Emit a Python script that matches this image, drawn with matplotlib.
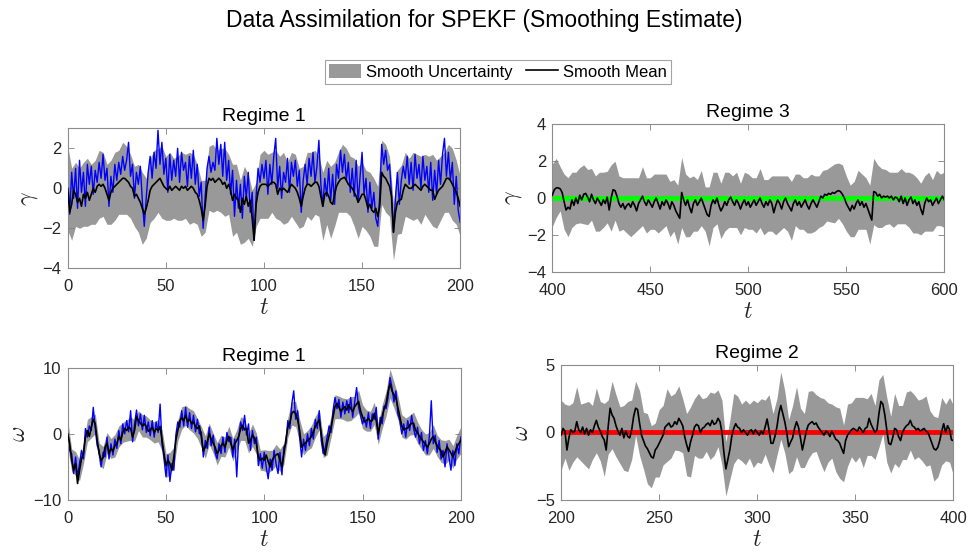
import numpy as np
import matplotlib
matplotlib.use('Agg')
import matplotlib.pyplot as plt
from matplotlib.patches import Patch
from matplotlib.lines import Line2D

plt.rcParams['font.family'] = ['Liberation Sans', 'DejaVu Sans']
plt.rcParams['mathtext.fontset'] = 'cm'

# ---- regime 1, gamma (t = 0..200) ----
g1_t = np.arange(0, 201)
g1_true = [0.6, -1.3, 0.8, -0.5, 1.0, -1.0, 1.4, -0.2, 0.8, -0.9,
           1.2, 0.2, 1.1, -0.3, 0.9, 0.3, 1.3, 0.5, 1.7, 0.4,
           1.0, -0.9, 0.6, -0.2, 1.2, 0.4, 1.3, 0.7, 1.6, 0.9,
           1.4, 2.3, 0.6, 1.2, -0.5, 0.8, 0.2, 1.1, -0.6, -1.9,
           -0.5, 0.8, 1.6, 0.5, 1.8, 1.0, 2.9, 1.2, 2.3, 0.7,
           1.5, -0.2, 1.7, 0.4, 1.4, 0.6, 2.0, 0.3, 1.8, 0.9,
           1.3, 0.1, 1.6, 0.5, 1.9, 0.2, 1.2, -0.4, 0.3, -2.0,
           -0.5, 1.0, 1.6, 0.8, 1.3, 0.9, 2.5, 1.2, 2.2, 0.6,
           2.3, 0.4, 1.4, -0.3, 0.9, -1.4, 0.4, -1.0, 0.2, -1.5,
           0.6, -0.5, 0.8, -1.2, -0.2, -2.6, -0.4, 1.0, 0.3, 1.2,
           0.5, 1.4, -0.3, 1.2, 0.2, 1.6, 2.5, 0.0, 1.1, -0.5,
           0.8, 0.3, 1.5, -0.2, 1.3, 0.6, 1.4, 0.1, 0.9, -1.2,
           0.4, 1.2, 0.2, 1.5, 0.6, 1.8, 0.3, 1.1, 2.4, 0.2,
           -0.9, 0.5, -0.4, 1.0, -0.6, 0.7, -0.8, 1.2, 0.5, 1.9,
           0.8, 1.7, 0.4, 1.3, -0.2, 1.0, -0.4, 1.4, -0.7, 0.6,
           1.8, -0.3, 0.5, -1.2, 0.3, -1.0, -0.2, -1.5, -1.9, -0.4,
           2.2, 1.2, 1.9, 0.9, 1.2, -0.3, -2.2, -0.5, 0.8, -0.8,
           0.4, 1.1, 0.5, 1.6, 0.2, 1.3, -0.1, 1.7, 0.5, 1.2,
           0.0, 1.6, 0.4, 1.1, -0.2, 1.3, -0.6, 0.9, -0.3, 1.4,
           0.2, 1.7, 2.5, 0.6, 1.8, 0.4, 1.3, -0.8, 0.6, -1.1,
           -1.7]
g1_mean = [0.0, -1.2, -0.8, -0.1, -0.3, -0.7, -0.5, -0.9, -0.3, -0.5,
           -0.2, -0.6, -0.3, 0.0, -0.2, 0.1, 0.2, 0.1, 0.2, 0.0,
           -0.3, -0.6, -0.2, 0.0, 0.1, 0.2, 0.3, 0.4, 0.5, 0.5,
           0.4, 0.3, 0.1, 0.0, -0.4, -0.3, -0.5, -0.7, -1.0, -1.3,
           -1.0, -0.6, -0.1, 0.1, 0.2, 0.3, 0.4, 0.5, 0.3, 0.1,
           0.0, -0.1, 0.1, -0.1, 0.0, 0.1, 0.0, -0.1, 0.1, 0.0,
           0.1, -0.1, 0.0, 0.1, 0.0, -0.2, -0.3, -0.6, -1.0, -1.6,
           -0.9, 0.1, 0.5, 0.4, 0.5, 0.3, 0.4, 0.5, 0.4, 0.2,
           0.3, 0.0, 0.2, -0.1, -0.6, -0.3, -0.5, -0.6, -1.2, -0.5,
           -0.8, -0.4, -0.9, -0.6, -1.5, -2.6, -0.8, -0.2, 0.1, 0.2,
           0.2, 0.2, 0.1, 0.2, 0.3, 0.3, 0.2, -0.3, 0.0, -0.1,
           0.0, -0.1, -0.2, 0.0, 0.2, 0.1, 0.0, -0.2, -0.5, -0.9,
           -0.4, 0.0, 0.2, 0.2, 0.1, 0.2, 0.3, 0.3, 0.1, -0.4,
           -0.9, -0.3, -0.2, -0.4, -0.7, -0.8, -0.3, 0.1, 0.3, 0.45,
           0.5, 0.55, 0.4, 0.2, 0.1, 0.0, -0.2, -0.4, -0.7, -0.5,
           -0.3, -0.3, -0.6, -1.0, -0.8, -1.1, -1.2, -1.0, -1.4, -0.9,
           0.8, 0.6, 0.5, 0.3, 0.1, -0.4, -2.2, -1.2, -0.7, -0.6,
           -0.55, -0.1, 0.2, 0.1, 0.0, 0.0, 0.1, 0.2, 0.1, 0.0,
           -0.1, 0.1, 0.2, 0.1, 0.0, -0.1, -0.1, -0.55, -0.3, -0.1,
           0.0, 0.1, 0.3, 0.5, 0.5, 0.4, 0.2, 0.0, -0.2, -0.5,
           -0.9]
# half width of the grey band, every 2 time units
g1_spread = [2.1, 1.8, 1.6, 1.5, 1.6, 1.7, 1.5, 1.6, 1.7, 1.6,
             1.5, 1.6, 1.7, 1.6, 1.8, 1.7, 1.6, 1.5, 1.7, 1.8,
             1.5, 1.6, 1.7, 1.6, 1.8, 1.6, 1.7, 1.5, 1.6, 1.7,
             1.6, 1.8, 1.7, 1.5, 1.4, 1.3, 1.6, 1.7, 1.5, 1.6,
             1.7, 1.5, 1.8, 1.7, 1.6, 1.9, 1.6, 1.4, 1.1, 1.6,
             1.7, 1.6, 1.5, 1.7, 1.6, 1.8, 1.5, 1.6, 1.7, 1.5,
             1.5, 1.6, 1.7, 1.6, 1.5, 1.7, 1.6, 1.8, 1.6, 1.5,
             1.7, 1.6, 1.5, 1.7, 1.8, 1.6, 1.5, 1.6, 1.7, 1.5,
             1.6, 1.7, 1.5, 1.4, 1.6, 1.7, 1.6, 1.5, 1.7, 1.6,
             1.7, 1.5, 1.6, 1.8, 1.7, 1.6, 1.5, 1.7, 1.8, 1.6,
             1.5]

# ---- regime 1, omega (t = 0..200) ----
w1_t = np.arange(0, 201)
w1_true = [0.5, -2.5, -3.0, -6.0, -3.5, -6.5, -4.5, -2.5, -3.8, 0.8,
           -0.5, 1.2, 0.5, 4.0, 0.8, -1.8, -2.5, -5.0, -2.8, -3.5,
           -0.5, -3.8, -1.5, -3.2, -0.8, -2.2, 0.5, -1.5, 1.5, 0.0,
           2.0, 0.3, 3.5, -1.2, 1.5, 3.6, 1.2, 3.0, 0.6, 2.8,
           0.2, 1.8, -0.3, 2.0, -0.5, 1.8, 0.2, 4.5, -1.5, -3.8,
           -6.5, -3.2, -7.2, -4.5, -5.5, -0.2, 1.8, 1.0, 3.5, 1.2,
           4.0, 1.0, 3.2, 0.8, 2.8, 0.3, 2.2, 0.0, 0.3, -3.5,
           -1.0, -2.2, 1.0, -1.8, -0.2, -2.8, -3.8, -1.5, -3.0, -0.5,
           -2.8, 0.2, -1.2, -0.5, -3.5, -0.8, -6.5, -0.5, 1.8, 0.5,
           2.8, -0.2, 1.5, -2.5, 0.5, -1.5, -0.5, -4.8, -3.0, -5.2,
           -2.8, -5.0, -6.8, -3.8, -5.5, -2.5, -4.5, -6.0, -2.8, -6.2,
           -2.0, -1.5, 2.0, 0.8, 4.5, 6.5, 2.2, 3.5, -0.5, -3.5,
           -0.8, -2.5, 0.0, -1.8, 0.8, -0.8, 2.2, 0.8, 3.5, -1.0,
           -3.0, -2.2, -0.5, 1.2, 0.2, 3.5, 5.5, 3.8, 5.2, 2.5,
           4.8, 3.0, 5.0, 3.2, 5.5, 2.5, 4.8, 7.0, 4.0, 2.8,
           1.5, 2.5, 1.0, 3.2, 0.8, 3.0, 2.2, 4.0, -0.8, 2.5,
           1.5, 4.2, 3.8, 5.5, 8.5, 7.0, 4.8, 6.5, 3.0, 2.0,
           0.0, 1.5, -0.5, 2.0, 0.5, 2.8, 0.8, -0.5, 1.0, -1.5,
           0.2, -2.5, -1.0, -3.0, -0.5, 5.0, -1.5, -0.2, -2.8, -1.0,
           -3.8, -2.5, -5.0, -1.5, -3.5, -5.5, -2.5, -4.8, -1.5, -3.0,
           -0.5]
w1_mean = [0.0, -1.5, -4.0, -5.5, -4.5, -7.5, -5.5, -3.8, -3.0, -0.5,
           0.5, -0.4, 1.0, 2.2, 1.5, -1.0, -3.0, -4.0, -3.6, -2.0,
           -1.4, -3.0, -2.2, -2.6, -1.8, -1.5, -0.4, -1.0, 0.2, 0.8,
           0.5, 1.0, 0.8, -0.5, 0.5, 2.6, 2.0, 1.6, 1.2, 1.5,
           1.1, 0.4, 0.6, 1.0, 0.2, 0.8, 0.5, 1.1, -1.0, -3.0,
           -4.8, -4.0, -4.5, -5.5, -3.5, -1.0, 0.5, 2.0, 2.4, 2.0,
           2.8, 1.8, 2.2, 1.6, 1.8, 1.1, 0.8, 1.2, -0.5, -2.6,
           -2.0, -1.2, 0.0, -0.8, -1.4, -2.0, -3.0, -2.5, -1.8, -1.4,
           -2.0, -1.0, -0.4, -1.5, -2.4, -1.5, -1.0, -0.4, 0.8, 1.3,
           0.6, 0.8, -1.4, -1.0, -0.2, -0.6, -1.5, -3.5, -4.0, -3.7,
           -4.0, -3.2, -4.2, -5.0, -4.0, -3.5, -3.2, -3.0, -4.0, -5.0,
           -3.0, -1.0, 1.0, 1.6, 3.1, 3.4, 3.0, 2.1, 0.5, -2.0,
           -1.6, -1.4, -1.0, -0.8, -0.4, 0.3, 1.1, 1.6, 2.1, 0.0,
           -2.0, -3.2, -1.5, -0.2, 1.1, 2.5, 4.1, 4.6, 4.0, 3.4,
           3.8, 4.1, 3.6, 4.4, 3.8, 3.4, 4.1, 4.5, 4.9, 3.5,
           2.6, 1.8, 2.0, 2.3, 1.9, 2.0, 3.1, 2.0, 0.0, 1.5,
           2.6, 3.8, 4.6, 6.4, 7.6, 6.5, 5.9, 5.4, 4.0, 2.6,
           1.2, 0.6, 0.8, 0.9, 1.3, 1.6, 1.6, 0.5, 0.2, -0.4,
           -0.8, -1.2, -1.6, -2.0, -1.5, -0.8, -0.4, -1.2, -1.8, -2.2,
           -2.6, -3.5, -2.8, -2.0, -2.4, -2.9, -3.5, -2.8, -2.0, -1.5,
           -1.0]
w1_spread = [2.0, 1.7, 1.8, 1.6, 1.5, 1.7, 1.6, 1.5, 1.6, 1.7,
             1.6, 1.5, 1.7, 1.6, 1.5, 1.6, 1.8, 1.6, 1.5, 1.7,
             1.6, 1.5, 1.6, 1.7, 1.6, 1.8, 1.7, 1.5, 1.6, 1.7,
             1.5, 1.6, 1.7, 1.5, 1.6, 1.7, 1.6, 1.5, 1.7, 1.6,
             1.5, 1.6, 1.7, 1.6, 1.8, 1.6, 1.5, 1.7, 1.6, 1.5,
             1.6, 1.7, 1.5, 1.6, 1.7, 1.6, 1.5, 1.8, 1.9, 1.7,
             1.6, 1.5, 1.7, 1.6, 1.5, 1.6, 1.7, 1.6, 1.8, 1.7,
             1.6, 1.7, 1.8, 1.6, 1.7, 1.8, 1.6, 1.5, 1.7, 1.6,
             1.8, 1.9, 2.2, 2.0, 1.8, 1.7, 1.6, 1.5, 1.7, 1.6,
             1.5, 1.6, 1.7, 1.8, 1.6, 1.7, 1.8, 1.6, 1.7, 1.8,
             2.0]

# ---- regime 3, gamma (t = 400..600), truth sits at 0 ----
g3_t = np.arange(400, 601)
g3_true_level = 0.0
g3_mean = [0.15, 0.45, 0.55, 0.55, 0.5, 0.3, -0.2, -0.65, -0.5, -0.6,
           -0.1, -0.4, 0.0, -0.3, 0.15, -0.1, 0.2, 0.25, 0.05, -0.2,
           0.2, -0.1, -0.3, 0.0, -0.2, -0.4, -0.1, -0.3, 0.05, -0.65,
           0.0, 0.45, 0.4, 0.1, -0.3, -0.5, -0.3, -0.6, -0.4, -0.3,
           -0.5, -0.2, -0.4, -0.7, -0.3, -0.1, 0.1, -0.2, -0.4, -0.1,
           -0.3, -0.5, -0.2, 0.0, -0.3, -0.6, -0.2, -0.4, -0.1, -0.3,
           -0.6, -0.2, -0.4, -0.7, -0.9, -1.1, 0.3, -0.1, -0.4, -0.1,
           -0.5, -0.8, -0.3, -0.1, -0.4, -0.2, 0.0, -0.3, -0.6, -0.9,
           -1.0, -0.4, -0.1, -0.3, 0.0, -0.4, -0.7, -0.5, -0.2, -0.4,
           -0.1, 0.05, -0.2, -0.4, -0.1, -0.3, -0.6, -0.3, -0.1, -0.4,
           -0.2, -0.5, -0.3, -0.1, -0.4, -0.2, 0.0, -0.3, -0.5, -0.2,
           -0.4, -0.1, -0.3, -0.8, -0.4, -0.1, -0.3, -0.6, -0.2, 0.0,
           -0.3, -0.5, -0.7, -0.3, -0.1, -0.4, -0.2, -0.5, -0.3, -0.1,
           -0.4, -0.6, -0.3, -0.1, -0.3, -0.5, -0.2, 0.1, 0.0, 0.2,
           0.15, 0.25, 0.2, 0.3, 0.25, 0.35, 0.4, 0.35, 0.2, 0.0,
           -0.3, -0.5, -0.7, -0.4, -0.6, -0.3, -0.1, -0.4, -0.2, -0.5,
           -0.3, -0.6, -0.9, -1.2, 0.35, 0.3, 0.1, 0.2, 0.0, 0.1,
           0.05, 0.1, 0.0, 0.1, -0.1, 0.05, 0.0, -0.2, 0.1, -0.3,
           0.0, -0.4, -0.1, 0.05, -0.3, -0.1, -0.4, -0.2, -0.6, -0.9,
           -0.3, 0.0, -0.2, -0.1, -0.4, -0.2, 0.0, -0.3, -0.1, 0.1,
           -0.1]
g3_spread = [1.7, 1.6, 1.2, 1.5, 1.6, 1.5, 1.4, 1.5, 1.6, 1.5,
             1.4, 1.5, 1.6, 1.5, 1.4, 1.8, 1.6, 1.5, 1.4, 1.5,
             1.6, 1.5, 1.4, 1.6, 1.5, 1.4, 1.5, 1.6, 1.5, 1.4,
             1.5, 1.4, 1.6, 1.9, 1.7, 1.6, 1.5, 1.4, 1.5, 1.2,
             1.6, 1.5, 1.4, 1.5, 1.6, 1.5, 1.4, 1.5, 1.4, 1.5,
             1.5, 1.4, 1.5, 1.6, 1.5, 1.4, 1.5, 1.6, 1.5, 1.4,
             1.5, 1.6, 1.4, 1.5, 1.4, 1.5, 1.6, 1.5, 1.4, 1.5,
             1.4, 1.5, 1.6, 1.5, 1.6, 1.5, 1.4, 1.5, 1.6, 1.5,
             1.4, 1.6, 1.8, 1.7, 1.6, 1.5, 1.4, 1.5, 1.4, 1.5,
             1.4, 1.5, 1.6, 1.5, 1.4, 1.5, 1.6, 1.4, 1.5, 1.4,
             1.5]

# ---- regime 2, omega (t = 200..400), truth sits at 0 ----
w2_t = np.arange(200, 401)
w2_true_level = 0.0
w2_mean = [-0.2, 0.3, 0.1, -1.3, -0.4, 0.2, 0.0, 0.1, 0.8, 0.2,
           0.0, 0.4, -0.1, 0.3, -0.2, 0.2, 0.0, 0.5, 0.9, 0.4,
           0.1, -0.3, -0.55, -1.3, 0.4, 1.8, 1.3, 1.05, 0.5, 0.1,
           -0.2, 0.3, -0.4, 0.1, -0.3, -0.4, 0.2, 1.2, 1.8, 1.7,
           0.7, -0.2, -0.6, -1.0, -1.2, -1.5, -1.8, -1.9, -1.3, -1.1,
           -0.8, -0.5, -0.2, 0.4, 0.55, 0.7, 0.4, 0.5, 0.8, 0.6,
           1.05, 0.8, 0.5, -0.3, -0.9, -1.4, -0.7, -0.2, 0.4, 0.6,
           0.5, 0.0, 0.3, 0.4, 0.6, 0.7, 0.5, 0.9, 0.6, 0.7,
           1.05, 0.8, 0.0, -1.5, -2.7, -2.0, -1.3, -0.3, 0.3, 0.65,
           0.4, 0.3, 0.0, 0.2, 0.0, -0.2, 0.1, 0.2, -0.1, 0.2,
           0.0, -0.2, 0.1, -0.1, 0.4, 1.0, 0.2, -0.8, -0.8, -0.3,
           0.4, 1.4, 2.0, 1.4, 0.8, 0.0, -1.05, -0.7, -0.4, 0.3,
           0.8, 0.4, -0.4, -1.3, -0.6, 0.1, 0.55, 0.7, 0.8, 0.6,
           0.7, 0.4, 0.2, 0.0, -0.2, 0.1, 0.0, -0.3, 0.1, -0.2,
           -0.5, -0.6, -0.8, -1.2, -1.55, -0.6, -0.2, 0.0, 0.2, 0.3,
           0.2, 0.1, 0.4, 0.2, 0.0, 0.3, 0.4, 1.05, 0.6, 0.3,
           0.0, 0.2, 1.4, 2.3, 2.1, 1.3, 0.2, -0.8, -0.9, -0.4,
           0.3, 0.2, -0.3, -0.6, 0.0, 0.3, 0.5, 0.6, 0.9, 0.5,
           0.4, 0.2, 0.3, 0.1, 0.2, 0.3, 0.1, 0.0, -0.4, -0.8,
           -1.2, -1.3, -1.1, -0.6, 0.1, 0.65, 0.0, 0.5, 0.2, -0.55,
           -0.6]
w2_spread = [2.6, 2.0, 2.4, 2.2, 2.6, 2.1, 2.3, 2.5, 2.0, 2.4,
             2.2, 2.7, 2.0, 2.5, 2.3, 2.1, 2.4, 2.6, 2.2, 2.0,
             2.4, 2.1, 2.6, 2.3, 2.0, 2.5, 2.2, 2.7, 2.3, 2.1,
             2.4, 2.0, 2.3, 2.6, 2.1, 2.4, 2.2, 2.0, 2.5, 2.3,
             2.1, 2.4, 2.0, 2.2, 2.6, 2.3, 2.1, 2.4, 2.0, 2.5,
             2.2, 2.4, 2.0, 2.6, 2.2, 2.1, 2.5, 2.3, 2.0, 2.4,
             2.6, 2.2, 2.0, 2.5, 2.3, 2.1, 2.4, 2.7, 2.2, 2.0,
             2.4, 2.6, 2.1, 2.3, 2.0, 2.4, 2.2, 2.6, 2.1, 2.3,
             2.0, 2.5, 2.2, 2.4, 2.1, 2.6, 2.3, 2.0, 2.5, 2.2,
             2.4, 2.1, 2.3, 2.6, 2.0, 2.4, 2.2, 2.5, 2.1, 2.4,
             2.6]

BAND = '#999999'
TXT = '#262626'


def style_axes(ax, xlim, ylim, xticks, yticks, ylabel, title):
    ax.set_xlim(xlim)
    ax.set_ylim(ylim)
    ax.set_xticks(xticks)
    ax.set_yticks(yticks)
    ax.tick_params(direction='in', top=True, right=True, length=4,
                   width=0.6, color='#7f7f7f', labelsize=12, labelcolor=TXT)
    ax.tick_params(axis='x', pad=8)
    ax.tick_params(axis='y', pad=4.5)
    for sp in ax.spines.values():
        sp.set_color('#8c8c8c')
        sp.set_linewidth(0.8)
    ax.set_xlabel(r'$t$', fontsize=17, labelpad=2, color=TXT)
    ax.set_ylabel(ylabel, fontsize=17, labelpad=2, color=TXT)
    ax.set_title(title, fontsize=14, pad=5, color='black')


def band(ax, t, mean, spread):
    t = np.asarray(t)[::2]
    m = np.asarray(mean)[::2]
    s = np.asarray(spread)
    ax.fill_between(t, m - s, m + s, color=BAND, lw=0, zorder=1)


fig = plt.figure(figsize=(9.69, 5.54), dpi=100)

ax1 = fig.add_axes([0.0699, 0.5157, 0.405, 0.2527])
band(ax1, g1_t, g1_mean, g1_spread)
ax1.plot(g1_t, g1_true, color='blue', lw=1.0, zorder=2)
ax1.plot(g1_t, g1_mean, color='black', lw=1.2, zorder=3)
style_axes(ax1, (0, 200), (-4, 3), range(0, 201, 50), [-4, -2, 0, 2],
           r'$\gamma$', 'Regime 1')

ax2 = fig.add_axes([0.570, 0.5096, 0.4045, 0.266])
band(ax2, g3_t, g3_mean, g3_spread)
ax2.plot(g3_t, np.full(len(g3_t), g3_true_level), color='#00ff00', lw=3.5, zorder=2)
ax2.plot(g3_t, g3_mean, color='black', lw=1.2, zorder=3)
style_axes(ax2, (400, 600), (-4, 4), range(400, 601, 50), [-4, -2, 0, 2, 4],
           r'$\gamma$', 'Regime 3')

ax3 = fig.add_axes([0.0699, 0.0975, 0.4056, 0.2388])
band(ax3, w1_t, w1_mean, w1_spread)
ax3.plot(w1_t, w1_true, color='blue', lw=1.0, zorder=2)
ax3.plot(w1_t, w1_mean, color='black', lw=1.2, zorder=3)
style_axes(ax3, (0, 200), (-10, 10), range(0, 201, 50), [-10, 0, 10],
           r'$\omega$', 'Regime 1')

ax4 = fig.add_axes([0.579, 0.0975, 0.405, 0.2437])
band(ax4, w2_t, w2_mean, w2_spread)
ax4.plot(w2_t, np.full(len(w2_t), w2_true_level), color='red', lw=3.5, zorder=2)
ax4.plot(w2_t, w2_mean, color='black', lw=1.2, zorder=3)
style_axes(ax4, (200, 400), (-5, 5), range(200, 401, 50), [-5, 0, 5],
           r'$\omega$', 'Regime 2')

fig.suptitle('Data Assimilation for SPEKF (Smoothing Estimate)', fontsize=16.5,
             x=0.5, y=0.983, va='top', color='black')

handles = [Patch(facecolor=BAND, edgecolor='none', label='Smooth Uncertainty'),
           Line2D([], [], color='black', lw=1.2, label='Smooth Mean')]
leg = fig.legend(handles=handles, loc='center', bbox_to_anchor=(0.514, 1 - 72 / 554),
                 ncol=2, fontsize=12, frameon=True, fancybox=False,
                 edgecolor='#8c8c8c', handlelength=1.9, handleheight=0.9,
                 handletextpad=0.3, columnspacing=0.8, borderpad=0.25,
                 borderaxespad=0)
leg.get_frame().set_linewidth(0.8)

fig.savefig('out.png', dpi=100)
